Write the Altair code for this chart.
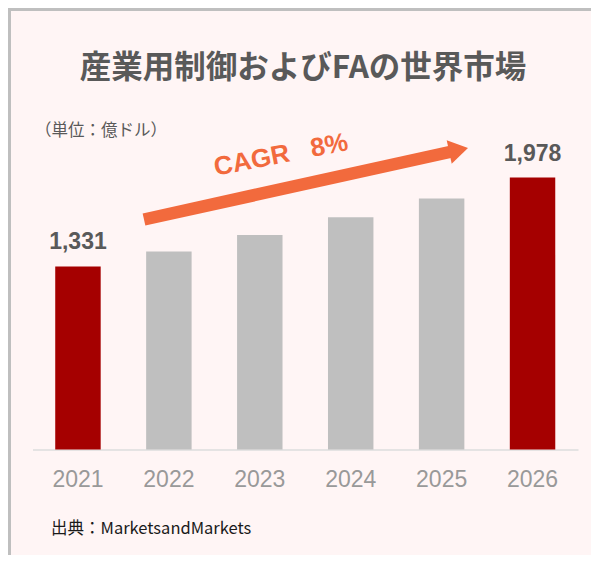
import altair as alt
import pandas as pd

# ---- data ----
years = ["2021", "2022", "2023", "2024", "2025", "2026"]
values = [1331, 1440, 1560, 1690, 1825, 1978]
value_labels = ["1,331", "", "", "", "", "1,978"]
bar_colors = ["#A50000", "#BFBFBF", "#BFBFBF", "#BFBFBF", "#BFBFBF", "#A50000"]

title_text = "産業用制御およびFAの世界市場"
unit_text = "（単位：億ドル）"
cagr_text = "CAGR\u00a0\u00a0\u00a08%"
source_text = "出典：MarketsandMarkets"

ORANGE = "#F26A3D"
DARK = "#595959"

df = pd.DataFrame({"year": years, "value": values, "label": value_labels, "color": bar_colors})
ann = pd.DataFrame({"k": [0]})

x = alt.X(
    "year:N",
    sort=years,
    scale=alt.Scale(paddingInner=0.5, paddingOuter=0.25),
    axis=alt.Axis(
        title=None, labelAngle=0, ticks=False, tickSize=0, labelPadding=19,
        labelFontSize=23, labelColor="#999999", labelFont="Liberation Sans",
        domainColor="#DCDCDC", domainWidth=1.5, grid=False,
    ),
)
y = alt.Y("value:Q", scale=alt.Scale(domain=[0, 2400], nice=False), axis=None)

bars = alt.Chart(df).mark_bar().encode(
    x=x, y=y, color=alt.Color("color:N", scale=None)
)

labels = alt.Chart(df).mark_text(
    fontSize=23, fontWeight="bold", font="Liberation Sans", color=DARK,
    baseline="alphabetic", dy=-17,
).encode(x=x, y=y, text="label:N")

title = alt.Chart(ann).mark_text(
    text=title_text, fontSize=31.5, fontWeight="bold", font="Noto Sans CJK JP",
    color=DARK, align="center", baseline="middle",
).encode(x=alt.value(270.5), y=alt.value(-50.5))

unit = alt.Chart(ann).mark_text(
    text=unit_text, fontSize=16.5, font="Noto Sans CJK JP",
    color=DARK, align="left", baseline="middle",
).encode(x=alt.value(2.5), y=alt.value(11.5))

cagr = alt.Chart(ann).mark_text(
    text=cagr_text, fontSize=26, fontWeight="bold", font="Liberation Sans",
    color=ORANGE, align="center", baseline="middle", angle=349,
).encode(x=alt.value(248.5), y=alt.value(35.5))

shaft = alt.Chart(ann).mark_rule(
    color=ORANGE, strokeWidth=12.5, strokeCap="butt"
).encode(x=alt.value(111.5), x2=alt.value(419.5), y=alt.value(100), y2=alt.value(32))

head = alt.Chart(ann).mark_point(
    shape="M-0.8,-1L0.8,0L-0.8,1Z", filled=True, size=576, angle=348,
    color=ORANGE, opacity=1, strokeWidth=0,
).encode(x=alt.value(426.1), y=alt.value(30.6))

source = alt.Chart(ann).mark_text(
    text=source_text, fontSize=16.5, font="Noto Sans CJK JP",
    color="#1A1A1A", align="left", baseline="middle",
).encode(x=alt.value(18.5), y=alt.value(409))

border_top = alt.Chart(ann).mark_rule(color="#BFBFBF", strokeWidth=3).encode(
    x=alt.value(-24.5), x2=alt.value(566.5), y=alt.value(-110)
)
border_left = alt.Chart(ann).mark_rule(color="#BFBFBF", strokeWidth=3).encode(
    x=alt.value(-23), y=alt.value(-111.5), y2=alt.value(443.5)
)

chart = alt.layer(
    bars, labels, title, unit, shaft, head, cagr, source, border_top, border_left
).properties(
    width=545.5,
    height=330,
    padding={"left": 24.5, "top": 111.5, "right": 13, "bottom": 105.5},
    autosize=alt.AutoSizeParams(type="none"),
    background="#FFF5F5",
).configure_view(strokeWidth=0)

chart.save("out.html", embed_options={"renderer": "svg", "actions": False})
